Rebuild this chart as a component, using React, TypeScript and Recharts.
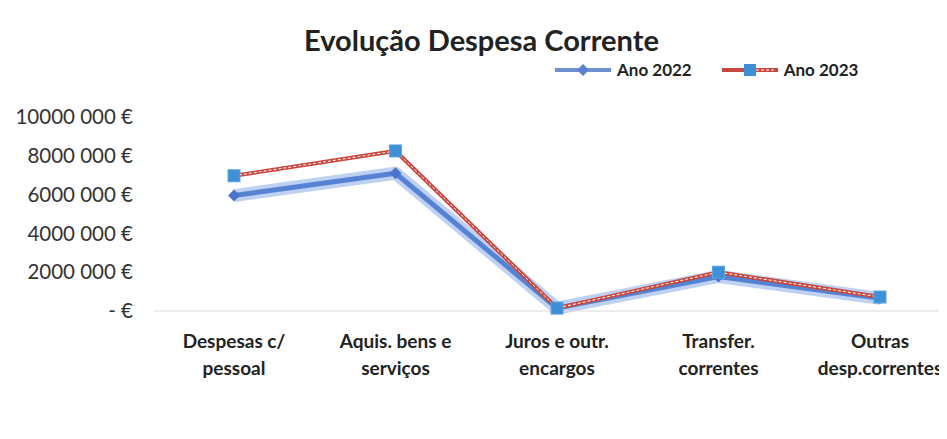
import React from "react";
import { LineChart, Line, XAxis, YAxis, Legend } from "recharts";

const categories = ["Despesas c/|pessoal", "Aquis. bens e|serviços", "Juros e outr.|encargos", "Transfer.|correntes", "Outras|desp.correntes"];
const ano2022 = [5950000, 7100000, 150000, 1780000, 650000];
const ano2023 = [6970000, 8250000, 150000, 2000000, 720000];
const yTicks = [0, 2000000, 4000000, 6000000, 8000000, 10000000];

const data = categories.map((c, i) => ({ cat: c, a2022: ano2022[i], a2023: ano2023[i] }));

const FONT = "Lato, 'Open Sans', sans-serif";

const fmtY = (v: number) => {
  if (v === 0) return "-   €";
  const th = Math.floor(v / 1000);
  return `${th} 000 €`;
};

const XTick = (props: any) => {
  const { x, y, payload } = props;
  const lines = String(payload.value).split("|");
  return (
    <g transform={`translate(${x},${y})`}>
      {lines.map((l, i) => (
        <text key={i} x={0} y={29 + i * 27} textAnchor="middle" fontFamily={FONT} fontWeight={700} fontSize={19} fill="#222">
          {l}
        </text>
      ))}
    </g>
  );
};

const Diamond = (props: any) => {
  const { cx, cy } = props;
  if (cx == null || cy == null) return null;
  const s = 6;
  return <path d={`M${cx},${cy - s} L${cx + s},${cy} L${cx},${cy + s} L${cx - s},${cy} Z`} fill="#4A74CC" />;
};

const Square = (props: any) => {
  const { cx, cy } = props;
  if (cx == null || cy == null) return null;
  const s = 6;
  return <rect x={cx - s} y={cy - s} width={2 * s} height={2 * s} fill="#3D8FD6" stroke="#5AA6E0" strokeWidth={1} />;
};

const LegendContent = () => (
  <div style={{ display: "flex", alignItems: "center", fontFamily: FONT, fontWeight: 700, fontSize: 17, color: "#222" }}>
    <svg width={60} height={14}>
      <line x1={2} y1={7} x2={58} y2={7} stroke="#6F8FD0" strokeWidth={4} />
      <path d="M30,1 L36,7 L30,13 L24,7 Z" fill="#5A80CF" />
    </svg>
    <span style={{ marginLeft: 4 }}>Ano 2022</span>
    <svg width={60} height={14} style={{ marginLeft: 28 }}>
      <line x1={2} y1={7} x2={58} y2={7} stroke="#C9463D" strokeWidth={4} />
      <line x1={36} y1={7} x2={56} y2={7} stroke="#fff" strokeWidth={1} strokeDasharray="3 2" />
      <rect x={24} y={1} width={12} height={12} fill="#3D8FD6" />
    </svg>
    <span style={{ marginLeft: 4 }}>Ano 2023</span>
  </div>
);

export default function App() {
  return (
    <div style={{ width: 939, height: 431, overflow: "hidden", position: "relative", background: "#fff" }}>
      <div style={{ position: "absolute", left: 0, top: 14, width: 939, textAlign: "center", fontFamily: FONT, fontWeight: 700, fontSize: 29, lineHeight: "36px", color: "#222" }}>
        <span style={{ position: "relative", left: 4 }}>Evolução Despesa Corrente</span>
      </div>
      <LineChart width={960} height={431} data={data} margin={{ top: 88, right: 8, bottom: 68, left: 0 }}>
        <XAxis dataKey="cat" tick={<XTick />} tickLine={false} axisLine={{ stroke: "#D9D9D9" }} height={60} interval={0} padding={{ left: 80, right: 80 }} />
        <YAxis
          width={146}
          domain={[0, 10000000]}
          ticks={yTicks}
          tickFormatter={fmtY}
          axisLine={false}
          tickLine={false}
          tick={{ fontFamily: FONT, fontSize: 20.5, fill: "#333" }}
          tickMargin={15}
        />
        <Legend content={<LegendContent />} verticalAlign="top" wrapperStyle={{ position: "absolute", top: 51, left: 545, width: "auto" }} />
        <Line dataKey="a2022" stroke="#A9C2EE" strokeWidth={13} strokeOpacity={0.75} dot={false} legendType="none" isAnimationActive={false} strokeLinejoin="round" />
        <Line dataKey="a2022" stroke="#5582D2" strokeWidth={5} dot={<Diamond />} legendType="none" isAnimationActive={false} strokeLinejoin="round" />
        <Line dataKey="a2023" stroke="#C9463D" strokeWidth={4} dot={false} legendType="none" isAnimationActive={false} />
        <Line dataKey="a2023" stroke="#ffffff" strokeWidth={1} strokeDasharray="3 2" dot={<Square />} legendType="none" isAnimationActive={false} />
      </LineChart>
    </div>
  );
}
